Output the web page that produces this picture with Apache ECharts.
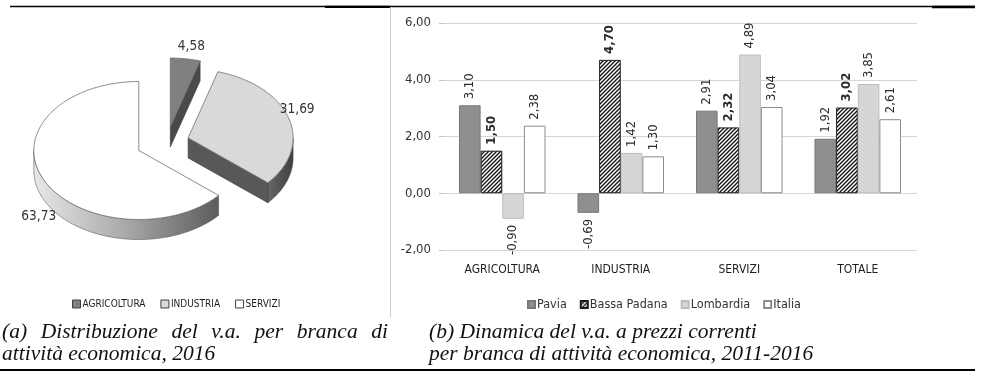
<!DOCTYPE html>
<html>
<head>
<meta charset="utf-8">
<script src="https://cdn.jsdelivr.net/npm/echarts@6/dist/echarts.min.js"></script>
<style>
  html, body { margin: 0; padding: 0; background: #ffffff; }
  #chart { width: 982px; height: 372px; }
</style>
</head>
<body>
<div id="chart"></div>
<script>
// ---- data ---------------------------------------------------------------
const pieCategories = ['AGRICOLTURA', 'INDUSTRIA', 'SERVIZI'];
const pieShares = [4.58, 31.69, 63.73];

const barCategories = ['AGRICOLTURA', 'INDUSTRIA', 'SERVIZI', 'TOTALE'];
const barSeriesNames = ['Pavia', 'Bassa Padana', 'Lombardia', 'Italia'];
const pavia = [3.10, -0.69, 2.91, 1.92];
const bassaPadana = [1.50, 4.70, 2.32, 3.02];
const lombardia = [-0.90, 1.42, 4.89, 3.85];
const italia = [2.38, 1.30, 3.04, 2.61];
const yTicks = [-2, 0, 2, 4, 6];

const captionA = ['(a) Distribuzione del v.a. per branca di', 'attività economica, 2016'];
const captionB = ['(b) Dinamica del v.a. a prezzi correnti', 'per branca di attività economica, 2011-2016'];

// ---- styles ---------------------------------------------------------------
const NARROW = '"Liberation Sans Narrow", "Arial Narrow", "DejaVu Sans Condensed", sans-serif';
const SERIF = '"Liberation Serif", "Times New Roman", serif';
const fmt = v => Number(v).toFixed(2).replace('.', ',');

function makeHatch() {
  const c = document.createElement('canvas');
  c.width = 4; c.height = 4;
  const g = c.getContext('2d');
  g.fillStyle = '#ffffff';
  g.fillRect(0, 0, 4, 4);
  g.strokeStyle = '#111111';
  g.lineWidth = 1.3;
  g.beginPath();
  g.moveTo(-1, 5); g.lineTo(5, -1);
  g.moveTo(-1, 1); g.lineTo(1, -1);
  g.moveTo(3, 5); g.lineTo(5, 3);
  g.stroke();
  return c;
}
const hatch = { image: makeHatch(), repeat: 'repeat' };

const barStyles = [
  { color: '#8f8f8f', borderColor: '#787878', borderWidth: 1 },
  { color: hatch, borderColor: '#1a1a1a', borderWidth: 1 },
  { color: '#d6d6d6', borderColor: '#bdbdbd', borderWidth: 1 },
  { color: '#ffffff', borderColor: '#8c8c8c', borderWidth: 1 }
];
const barLabelWeight = ['normal', 'bold', 'normal', 'normal'];

// pie slice appearance: top face, side colours
const pieTop = ['#808080', '#d9d9d9', '#ffffff'];
const pieFace = ['#4a4a4a', '#585858', '#6a6a6a'];
const pieSide = [
  ['#555555', '#444444'],
  ['#666666', '#3e3e3e'],
  ['#e8e8e8', '#a8a8a8', '#5c5c5c']
];

// pie geometry (elliptical, extruded, exploded)
const PIE = { cx: 167, cy: 142, rx: 105, ry: 69, depth: 20, explode: [23, 22, 31] };
const pieLabelShift = [[4, 2], [-5, -5], [8, 11]];

const pieTotal = pieShares.reduce((a, b) => a + b, 0);
let running = 0;
const pieStarts = pieShares.map(v => { const s = running; running += v; return s; });

const rad = d => d * Math.PI / 180;

function arcPoints(ox, oy, a0, a1, dy) {
  const pts = [];
  const n = Math.max(2, Math.ceil(Math.abs(a1 - a0)));
  for (let k = 0; k <= n; k++) {
    const a = rad(a0 + (a1 - a0) * k / n);
    pts.push([ox + PIE.rx * Math.cos(a), oy + PIE.ry * Math.sin(a) + dy]);
  }
  return pts;
}

function renderSlice(idx) {
  return function (params, api) {
    const start = api.value(0), val = api.value(1), tot = api.value(2);
    const a0 = -90 + 360 * start / tot;
    const a1 = a0 + 360 * val / tot;
    const mid = rad((a0 + a1) / 2);
    const e = PIE.explode[idx];
    const ox = PIE.cx + e * Math.cos(mid);
    const oy = PIE.cy + e * Math.sin(mid) * PIE.ry / PIE.rx;
    const d = PIE.depth;
    const children = [];

    // outer rim visible toward the viewer (angles between 0 and 180)
    const v0 = Math.max(a0, 0), v1 = Math.min(a1, 180);
    if (v1 > v0) {
      const top = arcPoints(ox, oy, v0, v1, 0);
      const bot = arcPoints(ox, oy, v1, v0, d);
      const stops = pieSide[idx];
      children.push({
        type: 'polygon', z2: 1,
        shape: { points: top.concat(bot) },
        style: {
          fill: new echarts.graphic.LinearGradient(0, 0, 1, 0,
            stops.map((c, k) => ({ offset: k / (stops.length - 1), color: c }))),
          stroke: '#5a5a5a', lineWidth: 0.6
        }
      });
    }
    // radial cut faces facing the viewer
    const face = (ang) => {
      const px = ox + PIE.rx * Math.cos(rad(ang));
      const py = oy + PIE.ry * Math.sin(rad(ang));
      children.push({
        type: 'polygon', z2: 2,
        shape: { points: [[ox, oy], [px, py], [px, py + d], [ox, oy + d]] },
        style: { fill: pieFace[idx], stroke: '#3a3a3a', lineWidth: 0.6 }
      });
    };
    if (Math.cos(rad(a1)) > 1e-6) face(a1);
    if (Math.cos(rad(a0)) < -1e-6) face(a0);

    // top surface
    children.push({
      type: 'polygon', z2: 10,
      shape: { points: [[ox, oy]].concat(arcPoints(ox, oy, a0, a1, 0)) },
      style: { fill: pieTop[idx], stroke: '#6e6e6e', lineWidth: 0.8 }
    });

    // value label just outside the rim
    const lx = ox + (PIE.rx + 14) * Math.cos(mid) + pieLabelShift[idx][0];
    const ly = oy + (PIE.ry + 14) * Math.sin(mid) + (Math.sin(mid) > 0 ? d : 0) + pieLabelShift[idx][1];
    children.push({
      type: 'text', z2: 20, x: lx, y: ly,
      style: {
        text: fmt(val), fill: '#333333',
        font: '13.5px ' + NARROW, align: 'center', verticalAlign: 'middle'
      }
    });
    return { type: 'group', children };
  };
}

const pieSeries = pieCategories.map((name, i) => ({
  type: 'custom',
  name,
  coordinateSystem: 'none',
  itemStyle: { color: pieTop[i], borderColor: '#404040', borderWidth: 1 },
  data: [[pieStarts[i], pieShares[i], pieTotal]],
  renderItem: renderSlice(i),
  silent: true
}));

// ---- bar series -----------------------------------------------------------
const barValues = [pavia, bassaPadana, lombardia, italia];
const barSeries = barSeriesNames.map((name, i) => ({
  type: 'bar',
  name,
  xAxisIndex: 0,
  yAxisIndex: 0,
  barGap: '0%',
  barCategoryGap: '27%',
  itemStyle: barStyles[i],
  label: {
    show: true,
    position: 'top',
    rotate: 90,
    align: 'left',
    verticalAlign: 'middle',
    distance: 6,
    fontFamily: NARROW,
    fontSize: 13,
    fontWeight: barLabelWeight[i],
    color: '#2e2e2e',
    formatter: p => fmt(p.value)
  },
  data: barValues[i].map(v => v < 0
    ? { value: v, label: { position: 'bottom', align: 'right' } }
    : v)
}));

// ---- captions (first line of (a) is justified) -------------------------------
const capFont = 'italic 21.5px ' + SERIF;
const measureCtx = document.createElement('canvas').getContext('2d');
measureCtx.font = capFont;

function justifiedWords(line, x0, x1, y) {
  const words = line.split(' ');
  const widths = words.map(w => measureCtx.measureText(w).width);
  const used = widths.reduce((a, b) => a + b, 0);
  const gap = (x1 - x0 - used) / (words.length - 1);
  let x = x0;
  return words.map((w, k) => {
    const el = { type: 'text', x, y, style: { text: w, font: capFont, fill: '#111', verticalAlign: 'middle' } };
    x += widths[k] + gap;
    return el;
  });
}
const capText = (t, x, y) => ({ type: 'text', x, y, style: { text: t, font: capFont, fill: '#111', verticalAlign: 'middle' } });

const graphics = [
  // rules framing the figure
  { type: 'line', shape: { x1: 10, y1: 6.5, x2: 975, y2: 6.5 }, style: { stroke: '#000', lineWidth: 1.3 } },
  { type: 'line', shape: { x1: 325, y1: 6.8, x2: 390, y2: 6.8 }, style: { stroke: '#000', lineWidth: 2.2 } },
  { type: 'line', shape: { x1: 932, y1: 7, x2: 975, y2: 7 }, style: { stroke: '#000', lineWidth: 2.4 } },
  { type: 'line', shape: { x1: 0, y1: 370, x2: 975, y2: 370 }, style: { stroke: '#000', lineWidth: 2 } },
  // panel separator
  { type: 'line', shape: { x1: 390.5, y1: 8, x2: 390.5, y2: 318 }, style: { stroke: '#cfcfcf', lineWidth: 1 } },
  ...justifiedWords(captionA[0], 2, 388, 332),
  capText(captionA[1], 2, 354),
  capText(captionB[0], 429, 332),
  capText(captionB[1], 429, 354)
];

// ---- chart ----------------------------------------------------------------
const chart = echarts.init(document.getElementById('chart'), null, { renderer: 'canvas' });
chart.setOption({
  animation: false,
  backgroundColor: '#ffffff',
  textStyle: { fontFamily: NARROW },
  grid: { left: 443, right: 65, top: 23, bottom: 122, containLabel: false },
  xAxis: {
    type: 'category',
    data: barCategories,
    axisLine: { show: false },
    axisTick: { show: false },
    axisLabel: { fontFamily: NARROW, fontSize: 12, color: '#1e1e1e', margin: 14 }
  },
  yAxis: {
    type: 'value',
    min: yTicks[0],
    max: yTicks[yTicks.length - 1],
    interval: yTicks[1] - yTicks[0],
    axisLine: { show: false },
    axisTick: { show: true, length: 4, lineStyle: { color: '#c4c4c4' } },
    axisLabel: { fontFamily: NARROW, fontSize: 13, color: '#333333', margin: 12, formatter: v => fmt(v) },
    splitLine: { lineStyle: { color: '#d6d6d6', width: 1 } }
  },
  legend: [
    {
      data: pieCategories.map((n, i) => ({ name: n, itemStyle: { color: pieTop[i], borderColor: '#404040', borderWidth: 1 } })),
      left: 67, top: 294,
      icon: 'rect', itemWidth: 8, itemHeight: 8, itemGap: 15,
      selectedMode: false,
      textStyle: { fontFamily: NARROW, fontSize: 10, color: '#1e1e1e', padding: [0, 0, 0, -3] }
    },
    {
      data: barSeriesNames,
      left: 522, top: 293,
      icon: 'rect', itemWidth: 7, itemHeight: 7, itemGap: 13,
      selectedMode: false,
      textStyle: { fontFamily: NARROW, fontSize: 12.5, color: '#333333', padding: [0, 0, 0, -3] }
    }
  ],
  series: [...pieSeries, ...barSeries],
  graphic: graphics
});
</script>
</body>
</html>
